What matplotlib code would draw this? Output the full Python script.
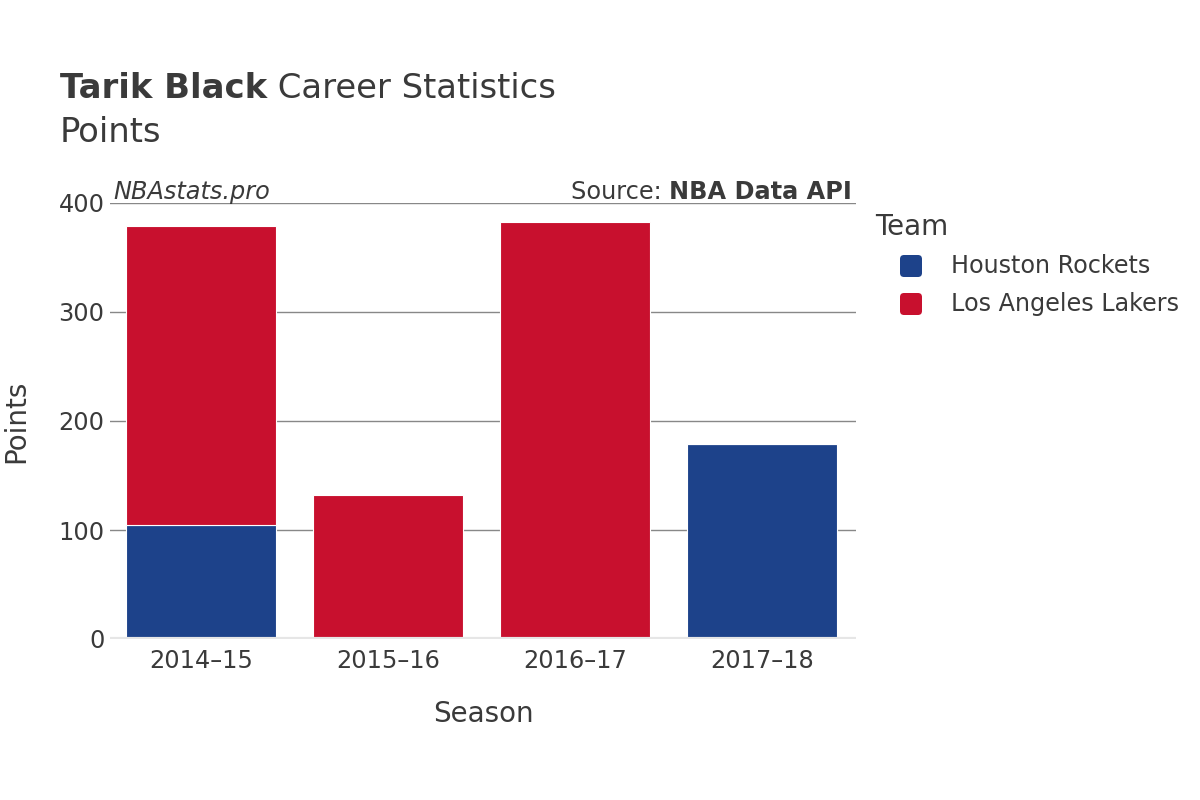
import numpy as np
import matplotlib.pyplot as plt
from matplotlib.patches import FancyBboxPatch

plt.rcParams['font.family'] = ['DejaVu Sans']

seasons = ['2014–15', '2015–16', '2016–17', '2017–18']
houston = [105, 0, 0, 179]
lakers = [274, 132, 383, 0]
teams = ['Houston Rockets', 'Los Angeles Lakers']
colors = ['#1d428a', '#c8102e']
yticks = [0, 100, 200, 300, 400]

txt = '#3a3a3a'
fig = plt.figure(figsize=(12, 8), dpi=100)
ax = fig.add_axes([110 / 1200, 161 / 800, 746 / 1200, 436 / 800])

x = np.arange(len(seasons))
ax.bar(x, houston, width=0.8, color=colors[0], edgecolor='white', linewidth=0.8, zorder=2)
ax.bar(x, lakers, width=0.8, bottom=houston, color=colors[1], edgecolor='white',
       linewidth=0.8, zorder=2)

ax.set_xlim(-0.487, 3.503)
ax.set_ylim(0, 400)
ax.set_yticks(yticks)
ax.set_xticks(x)
ax.set_xticklabels(seasons)
for y in yticks[1:]:
    ax.axhline(y, color='#888888', linewidth=1, zorder=1)
ax.axhline(0, color='#e6e6e6', linewidth=3, zorder=3)
for s in ax.spines.values():
    s.set_visible(False)
ax.tick_params(length=0, labelsize=17.3, labelcolor=txt)
ax.tick_params(axis='x', pad=7)
ax.tick_params(axis='y', pad=4)

ax.set_xlabel('Season', fontsize=20, color=txt, labelpad=20)
ax.set_ylabel('Points', fontsize=20, color=txt, labelpad=20)

t_bold = fig.text(60 / 1200, 1 - 89 / 800, 'Tarik Black', fontsize=24.4, fontweight='bold',
                  color=txt, va='center')
fig.canvas.draw()
bx = t_bold.get_window_extent().x1
fig.text(bx / 1200, 1 - 89 / 800, ' Career Statistics', fontsize=24.4, color=txt,
         va='center')
fig.text(60 / 1200, 1 - 132 / 800, 'Points', fontsize=24.4, color=txt, va='center')

fig.text(113 / 1200, 1 - 192 / 800, 'NBAstats.pro', fontsize=17.3, style='italic',
         color=txt, va='center')
t_src = fig.text(852 / 1200, 1 - 192 / 800, 'NBA Data API', fontsize=17.3, fontweight='bold',
                 color=txt, va='center', ha='right')
fig.canvas.draw()
bb = t_src.get_window_extent()
fig.text(bb.x0 / 1200, 1 - 192 / 800, 'Source: ', fontsize=17.3, color=txt, va='center',
         ha='right')

# legend
fig.text(875 / 1200, 1 - 227 / 800, 'Team', fontsize=20, color=txt, va='center')
for i, (name, c) in enumerate(zip(teams, colors)):
    cy = 800 - (266 + 38 * i)
    box = FancyBboxPatch((900, cy - 11), 22, 22, boxstyle='round,pad=0,rounding_size=4',
                         facecolor=c, edgecolor='none', transform=None)
    fig.patches.append(box)
    fig.text(951 / 1200, cy / 800, name, fontsize=17.2, color=txt, va='center')

fig.savefig('out.png', dpi=100)
